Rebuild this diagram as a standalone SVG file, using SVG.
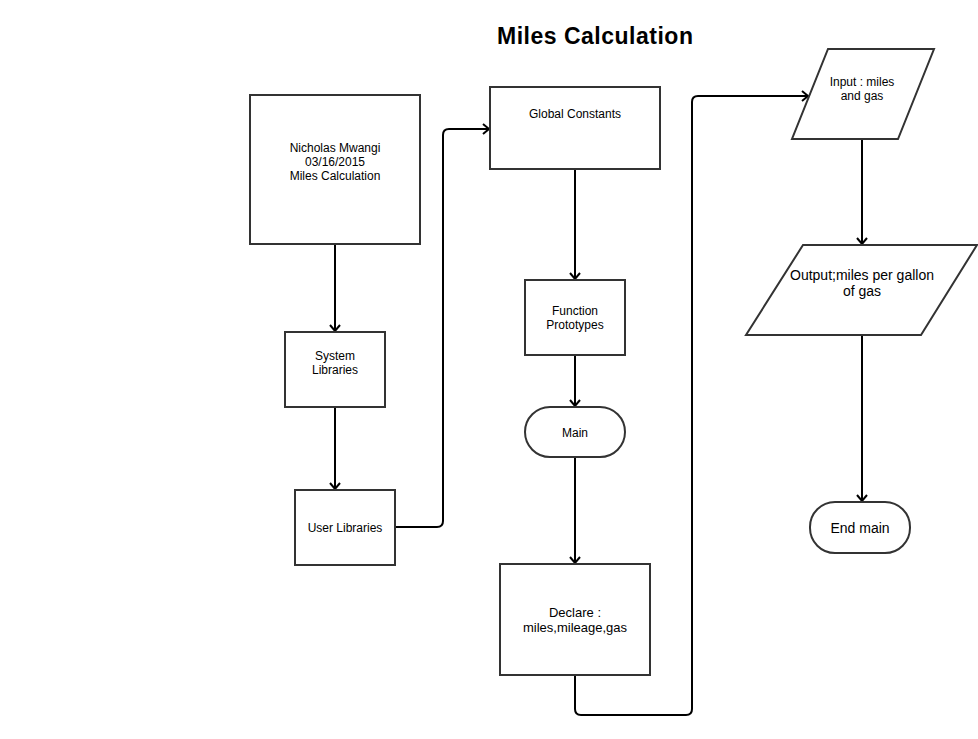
<svg xmlns="http://www.w3.org/2000/svg" width="978" height="739" viewBox="0 0 978 739">
<style>
  .node { fill: #ffffff; stroke: #333333; stroke-width: 2; }
  .t { font-family: "Liberation Sans", Arial, sans-serif; font-size: 12px; fill: #000000; text-anchor: middle; }
  .t13 { font-size: 13px; }
  .t14 { font-size: 14px; }
  .title { font-family: "Liberation Sans", Arial, sans-serif; font-size: 23px; font-weight: bold; fill: #000000; text-anchor: middle; }
  .edge { fill: none; stroke: #000000; stroke-width: 2; marker-end: url(#arr); }
</style>
<defs>
  <marker id="arr" viewBox="-8 -6 10 12" refX="0" refY="0" markerWidth="10" markerHeight="12" markerUnits="userSpaceOnUse" orient="auto">
    <path d="M-6,-5 L0,0 L-6,5" fill="none" stroke="#000000" stroke-width="2"/>
  </marker>
</defs>
<rect x="0" y="0" width="978" height="739" fill="#ffffff"/>
<text class="title" x="595" y="44" textLength="196">Miles Calculation</text>

<g id="connectors">
  <path class="edge" d="M335,244 V331"/>
  <path class="edge" d="M335,407 V489"/>
  <path class="edge" d="M395,527 H437 Q443,527 443,521 V135 Q443,129 449,129 H489"/>
  <path class="edge" d="M575,169 V279"/>
  <path class="edge" d="M575,355 V406"/>
  <path class="edge" d="M575,457 V563"/>
  <path class="edge" d="M575,675 V709 Q575,715 581,715 H686 Q692,715 692,709 V102 Q692,96 698,96 H808"/>
  <path class="edge" d="M862,139 V244"/>
  <path class="edge" d="M862,335 V501"/>
</g>

<g id="header">
  <rect class="node" x="250" y="95" width="170" height="149"/>
  <text class="t" x="335" y="152">Nicholas Mwangi</text>
  <text class="t" x="335" y="166">03/16/2015</text>
  <text class="t" x="335" y="180">Miles Calculation</text>
</g>

<g id="system-libraries">
  <rect class="node" x="285" y="332" width="100" height="75"/>
  <text class="t" x="335" y="360">System</text>
  <text class="t" x="335" y="374">Libraries</text>
</g>

<g id="user-libraries">
  <rect class="node" x="295" y="490" width="100" height="75"/>
  <text class="t" x="345" y="532">User Libraries</text>
</g>

<g id="global-constants">
  <rect class="node" x="490" y="87" width="170" height="82"/>
  <text class="t" x="575" y="118">Global Constants</text>
</g>

<g id="function-prototypes">
  <rect class="node" x="525" y="280" width="100" height="75"/>
  <text class="t" x="575" y="315">Function</text>
  <text class="t" x="575" y="329">Prototypes</text>
</g>

<g id="main">
  <rect class="node" x="525" y="407" width="100" height="50" rx="25" ry="25"/>
  <text class="t" x="575" y="437">Main</text>
</g>

<g id="declare">
  <rect class="node" x="500" y="564" width="150" height="111"/>
  <text class="t t13" x="575" y="617">Declare :</text>
  <text class="t t13" x="575" y="632">miles,mileage,gas</text>
</g>

<g id="input">
  <polygon class="node" points="828,49 934,49 898,139 792,139"/>
  <text class="t" x="862" y="86">Input : miles</text>
  <text class="t" x="862" y="100">and gas</text>
</g>

<g id="output">
  <polygon class="node" points="803,245 977,245 921,335 746,335"/>
  <text class="t t14" x="862" y="280">Output;miles per gallon</text>
  <text class="t t14" x="862" y="296">of gas</text>
</g>

<g id="end-main">
  <rect class="node" x="810" y="502" width="100" height="51" rx="25" ry="25"/>
  <text class="t t14" x="860" y="533">End main</text>
</g>
</svg>
